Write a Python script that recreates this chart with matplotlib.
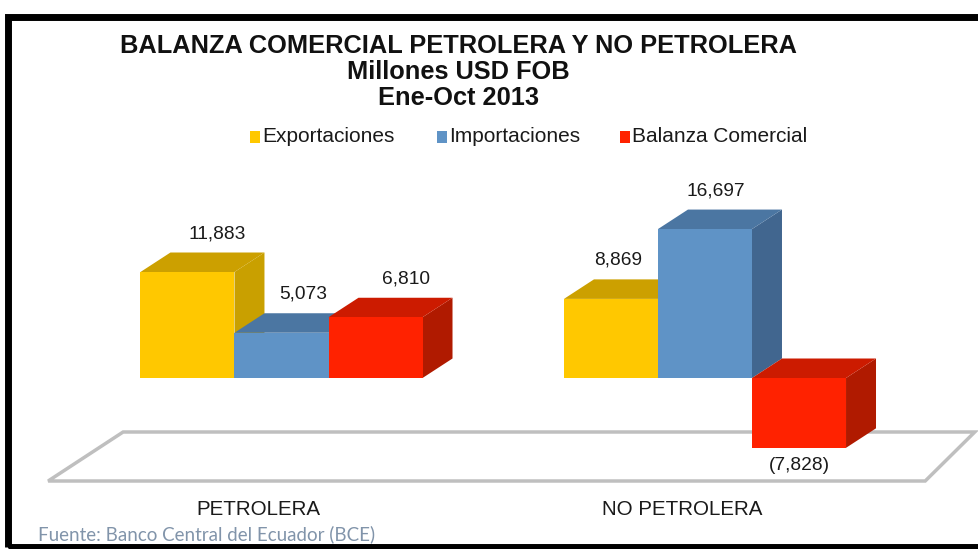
import matplotlib
matplotlib.use("Agg")
import matplotlib.pyplot as plt
from matplotlib.patches import Polygon, Rectangle

# data
categories = ["PETROLERA", "NO PETROLERA"]
series = ["Exportaciones", "Importaciones", "Balanza Comercial"]
exportaciones = [11883, 8869]
importaciones = [5073, 16697]
balanza = [6810, -7828]

# colours: front, top, side
front = ["#FFC800", "#5F93C6", "#FF2200"]
top = ["#CCA000", "#4B76A2", "#CC1B00"]
side = ["#C9A000", "#41668F", "#B01A00"]

plt.rcParams["font.family"] = ["Liberation Sans", "DejaVu Sans"]

fig = plt.figure(figsize=(9.79, 5.49), dpi=100)
ax = fig.add_axes([0, 0, 1, 1])
ax.set_xlim(-0.6647, 1.647)
ax.set_ylim(-19170, 42376)
ax.axis("off")

w = 0.222        # bar width
dx = 0.0708      # depth offset in x
dy = 2186        # depth offset in y

# floor
fl_top, fl_bot = -6054, -11547
floor = Polygon([(-0.551, fl_bot), (-0.374, fl_top), (1.637, fl_top), (1.52, fl_bot)],
                closed=True, facecolor="white", edgecolor="#BFBFBF", lw=2.5, zorder=1)
ax.add_patch(floor)


def bar3d(x0, v, k):
    lo, hi = min(0, v), max(0, v)
    sd = Polygon([(x0 + w, lo), (x0 + w + dx, lo + dy), (x0 + w + dx, hi + dy), (x0 + w, hi)],
                 closed=True, facecolor=side[k], edgecolor="none", zorder=2)
    tp = Polygon([(x0, hi), (x0 + dx, hi + dy), (x0 + w + dx, hi + dy), (x0 + w, hi)],
                 closed=True, facecolor=top[k], edgecolor="none", zorder=2)
    fr = Rectangle((x0, lo), w, hi - lo, facecolor=front[k], edgecolor="none", zorder=2)
    for p in (sd, tp, fr):
        ax.add_patch(p)


values = [exportaciones, importaciones, balanza]
# label x offsets (px), tweaked to match original placement
lab_off = [[30, 7], [22, 11], [30, 0]]

for g in range(len(categories)):
    for k in range(len(series)):
        x0 = g + (k - 1.5) * w
        v = values[k][g]
        bar3d(x0, v, k)
        xc = x0 + w / 2
        if v >= 0:
            txt = f"{v:,}"
            ax.annotate(txt, (xc, v + dy), xytext=(lab_off[k][g] * 0.72, 19 * 0.72),
                        textcoords="offset points", ha="center", va="center",
                        fontsize=13.8, color="#1a1a1a", zorder=5)
        else:
            txt = f"({-v:,})"
            ax.annotate(txt, (xc, v), xytext=(lab_off[k][g] * 0.72, -18 * 0.72),
                        textcoords="offset points", ha="center", va="center",
                        fontsize=13.8, color="#1a1a1a", zorder=5)

# category labels
for g, c in enumerate(categories):
    ax.text(g - 0.055, -14700, c, ha="center", va="center", fontsize=14.8, color="#1a1a1a")

# title
title_lines = ["BALANZA COMERCIAL PETROLERA Y NO PETROLERA", "Millones USD FOB", "Ene-Oct 2013"]
for i, t in enumerate(title_lines):
    fig.text(0.468, 1 - (46 + 26 * i) / 549, t, ha="center", va="center",
             fontsize=18.3, fontweight="bold", color="#111111")

# legend
leg_x = [250, 437, 620]
for k, s in enumerate(series):
    fig.patches.append(Rectangle((leg_x[k] / 979, 1 - 143 / 549), 10 / 979, 12 / 549,
                                 transform=fig.transFigure, facecolor=front[k],
                                 edgecolor="none", figure=fig))
    fig.text((leg_x[k] + 12) / 979, 1 - 137 / 549, s, ha="left", va="center",
             fontsize=15, color="#1a1a1a")

# source
fig.text(38 / 979, 1 - 534 / 549, "Fuente: Banco Central del Ecuador (BCE)",
         ha="left", va="center", fontsize=13.5, color="#8194AA", family="Lato")

# black frame
fig.patches.append(Rectangle((8 / 979, 2 / 549), 1.2, (547 - 19) / 549 + 0.003,
                             transform=fig.transFigure, facecolor="none",
                             edgecolor="black", lw=5, figure=fig))

fig.savefig("out.png", dpi=100)
